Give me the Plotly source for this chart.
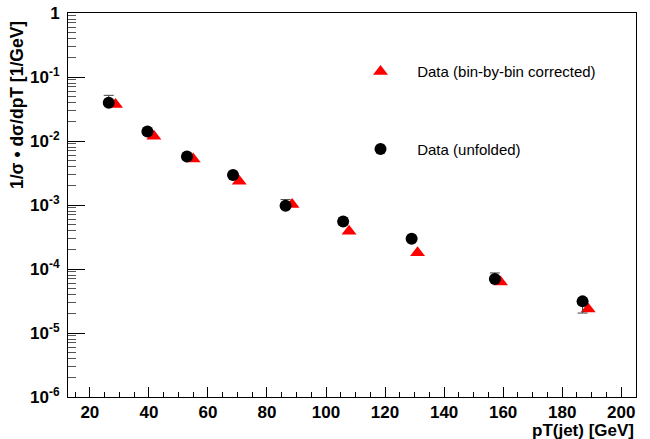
import plotly.graph_objects as go

# Data (unfolded) - circles
pt_unf = [26.4, 39.5, 52.9, 68.5, 86.3, 105.8, 129.0, 157.2, 186.9]
val_unf = [0.0397, 0.0141, 0.00574, 0.00294, 0.000975, 0.000554, 0.000297, 6.98e-5, 3.12e-5]
err_unf_plus = [0.012, 0, 0, 0, 0.00024, 0, 0, 1.7e-5, 0]
err_unf_minus = [0, 0, 0, 0, 0, 0, 0, 0, 1.07e-5]

# Data (bin-by-bin corrected) - triangles
pt_bbb = [28.7, 41.7, 55.0, 70.6, 88.5, 107.8, 131.0, 159.1, 188.8]
val_bbb = [0.0372, 0.0119, 0.00525, 0.00235, 0.00102, 0.00039, 0.000179, 6.29e-5, 2.38e-5]

y_major = [1e-6, 1e-5, 1e-4, 1e-3, 1e-2, 1e-1, 1]
y_major_text = ["10<sup>-6</sup>", "10<sup>-5</sup>", "10<sup>-4</sup>", "10<sup>-3</sup>",
                "10<sup>-2</sup>", "10<sup>-1</sup>", "1"]
y_minor = [m * 10.0 ** e for e in range(-6, 0) for m in range(2, 10)]

FONT = "Liberation Sans, Arial, Helvetica, sans-serif"
NB = "\u00a0" * 4

fig = go.Figure()
fig.add_trace(go.Scatter(
    x=pt_bbb, y=val_bbb, mode="markers", name=NB + "Data (bin-by-bin corrected)",
    legendgroup="a",
    marker=dict(symbol="triangle-up", size=13, color="#ff0000", line=dict(width=0)),
))
fig.add_trace(go.Scatter(
    x=pt_unf, y=val_unf, mode="markers", name=NB + "Data (unfolded)",
    legendgroup="b",
    marker=dict(symbol="circle", size=12, color="black", line=dict(width=0)),
    error_y=dict(type="data", symmetric=False, array=err_unf_plus, arrayminus=err_unf_minus,
                 color="#444444", thickness=1, width=5),
))
# invisible trace to carry minor y ticks
fig.add_trace(go.Scatter(x=[None], y=[None], yaxis="y2", showlegend=False, hoverinfo="skip"))

fig.update_layout(
    width=650, height=439,
    margin=dict(l=68, r=14, t=13, b=42),
    paper_bgcolor="white", plot_bgcolor="white",
    font=dict(family=FONT, color="black"),
    showlegend=True,
    legend=dict(x=0.515, y=0.89, xanchor="left", yanchor="top",
                font=dict(family=FONT, size=15, color="black"),
                bgcolor="rgba(0,0,0,0)", tracegroupgap=55),
    xaxis=dict(range=[12.6, 205], dtick=20, tick0=0, ticks="inside", ticklen=10,
               tickwidth=1, tickcolor="black", showgrid=False, zeroline=False,
               showline=True, mirror=True, linecolor="black", linewidth=1,
               automargin=False,
               tickfont=dict(family=FONT, size=17, weight="bold"),
               minor=dict(dtick=5, tick0=0, ticks="inside", ticklen=5, tickcolor="black", showgrid=False)),
    yaxis=dict(type="log", range=[-6, 0], tickmode="array", tickvals=y_major, ticktext=y_major_text,
               ticks="inside", ticklen=17, tickwidth=1, tickcolor="black", showgrid=False,
               zeroline=False, showline=True, mirror=True, linecolor="black", linewidth=1,
               ticklabelstandoff=4, automargin=False,
               tickfont=dict(family=FONT, size=17, weight="bold")),
    yaxis2=dict(type="log", range=[-6, 0], overlaying="y", side="left", matches="y",
                tickmode="array", tickvals=y_minor, ticktext=[""] * len(y_minor),
                ticks="inside", ticklen=8, tickwidth=1, tickcolor="#555555", automargin=False,
                showgrid=False, zeroline=False, showline=False),
    annotations=[
        dict(text="<b>1/σ • dσ/dpT [1/GeV]</b>", textangle=-90, xref="paper", yref="paper",
             x=0, y=1, xanchor="right", yanchor="top", xshift=-39, yshift=-6, showarrow=False,
             font=dict(family=FONT, size=17.5, color="black")),
        dict(text="<b>pT(jet) [GeV]</b>", xref="paper", yref="paper", x=1, y=0,
             xanchor="right", yanchor="top", yshift=-22, xshift=0, showarrow=False,
             font=dict(family=FONT, size=17, color="black")),
    ],
)

fig.write_html("out.html", config={"displayModeBar": False},
               post_script="document.body.style.margin='0';document.body.style.padding='0';")
